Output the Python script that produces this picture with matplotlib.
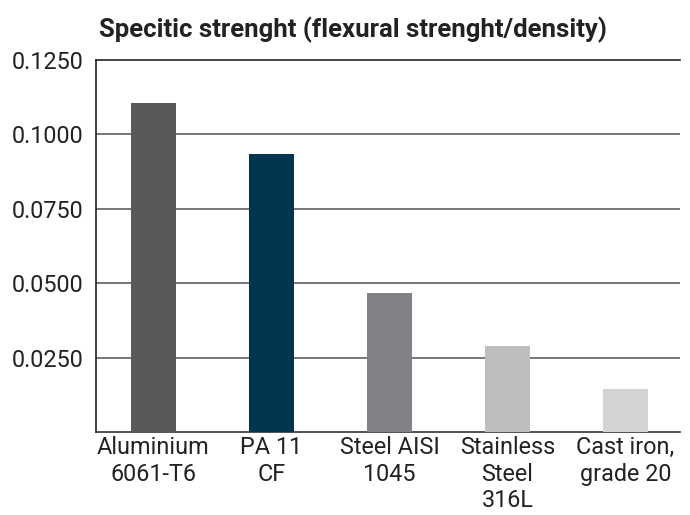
import matplotlib
matplotlib.use("Agg")
import matplotlib.pyplot as plt
from matplotlib.ticker import FixedLocator, FormatStrFormatter

plt.rcParams['font.family'] = ['Roboto', 'DejaVu Sans']

# data
materials = ["Aluminium\n6061-T6", "PA 11\nCF", "Steel AISI\n1045", "Stainless\nSteel\n316L", "Cast iron,\ngrade 20"]
specific_strength = [0.1106, 0.0935, 0.0466, 0.0288, 0.0144]
bar_colors = ["#58595b", "#003550", "#808285", "#bcbec0", "#d1d3d4"]
y_ticks = [0.025, 0.05, 0.075, 0.1, 0.125]

fig = plt.figure(figsize=(6.9, 5.15), dpi=100)
ax = fig.add_axes([96/690, 1 - 432/515, (680 - 96)/690, (432 - 60)/515])

x = list(range(len(materials)))
ax.bar(x, specific_strength, width=0.38, color=bar_colors, zorder=3)

ax.set_xlim(-0.487, 4.462)
ax.set_ylim(0, 0.125)
ax.yaxis.set_major_locator(FixedLocator(y_ticks))
ax.yaxis.set_major_formatter(FormatStrFormatter('%.4f'))
ax.set_xticks(x)
ax.set_xticklabels(materials, fontsize=16.8, color='#222222', linespacing=1.2, va='top')
ax.tick_params(axis='y', length=0, pad=9, labelsize=16.8, labelcolor='#222222')
ax.tick_params(axis='x', length=0, pad=3)

# horizontal grid lines
for t in y_ticks[:-1]:
    ax.axhline(t, color='#606060', lw=1.2, zorder=1)
ax.axhline(0.125, color='#222222', lw=1.2, zorder=1, clip_on=False)

for s in ['top', 'right']:
    ax.spines[s].set_visible(False)
ax.spines['left'].set_color('#222222')
ax.spines['bottom'].set_color('#333333')
ax.spines['left'].set_linewidth(1.2)
ax.spines['bottom'].set_linewidth(1.2)

fig.text(353/690, 1 - 30/515, "Specitic strenght (flexural strenght/density)",
         ha='center', va='center', fontsize=18.5, fontweight='bold', color='#222222')

fig.savefig("out.png", dpi=100)
